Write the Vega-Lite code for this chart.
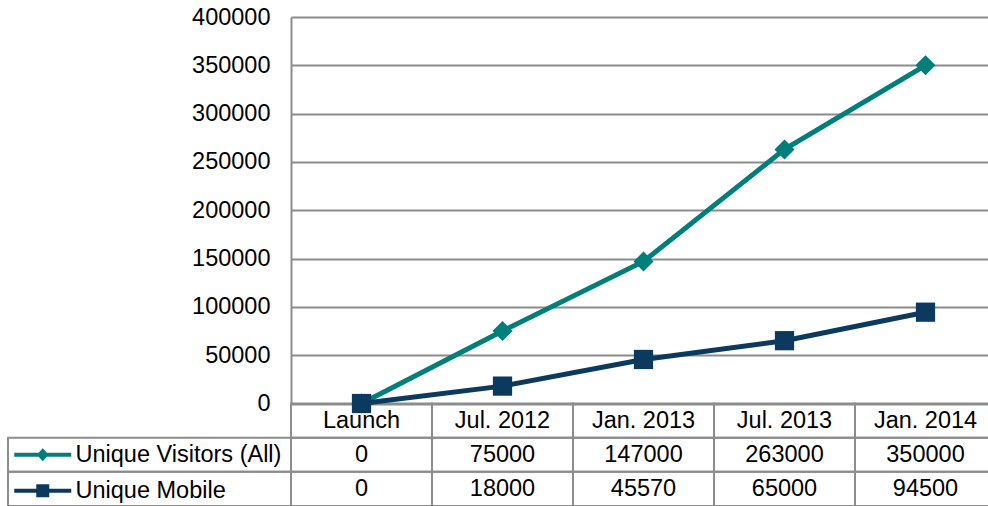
{
  "$schema": "https://vega.github.io/schema/vega-lite/v6.json",
  "autosize": {"type": "none"},
  "padding": {"left": 291, "top": 17, "right": 0, "bottom": 0},
  "width": 697,
  "height": 489,
  "background": "white",
  "config": {
    "view": {"stroke": null},
    "font": "Liberation Sans",
    "text": {"font": "Liberation Sans"}
  },
  "datasets": {
    "rows": [
      {"period": "Launch", "series": "Unique Visitors (All)", "value": 0},
      {"period": "Jul. 2012", "series": "Unique Visitors (All)", "value": 75000},
      {"period": "Jan. 2013", "series": "Unique Visitors (All)", "value": 147000},
      {"period": "Jul. 2013", "series": "Unique Visitors (All)", "value": 263000},
      {"period": "Jan. 2014", "series": "Unique Visitors (All)", "value": 350000},
      {"period": "Launch", "series": "Unique Mobile", "value": 0},
      {"period": "Jul. 2012", "series": "Unique Mobile", "value": 18000},
      {"period": "Jan. 2013", "series": "Unique Mobile", "value": 45570},
      {"period": "Jul. 2013", "series": "Unique Mobile", "value": 65000},
      {"period": "Jan. 2014", "series": "Unique Mobile", "value": 94500}
    ]
  },
  "data": {"name": "rows"},
  "resolve": {"scale": {"x": "independent", "y": "independent"}, "axis": {"x": "independent", "y": "independent"}},
  "layer": [
    {
      "mark": {"type": "rect", "fill": "transparent", "stroke": "#8c8c8c", "strokeWidth": 2},
      "encoding": {
        "x": {"field": "period", "type": "nominal", "sort": null, "axis": null,
              "scale": {"type": "band", "domain": ["Launch", "Jul. 2012", "Jan. 2013", "Jul. 2013", "Jan. 2014"], "range": [0, 705], "paddingInner": 0, "paddingOuter": 0}},
        "y": {"field": "series", "type": "nominal", "axis": null,
              "scale": {"type": "band", "domain": ["header", "Unique Visitors (All)", "Unique Mobile"], "range": [386.5, 489], "paddingInner": 0, "paddingOuter": 0}}
      }
    },
    {
      "transform": [{"filter": "datum.series === 'Unique Visitors (All)'"}],
      "mark": {"type": "rect", "fill": "transparent", "stroke": "#8c8c8c", "strokeWidth": 2},
      "encoding": {
        "x": {"field": "period", "type": "nominal", "sort": null, "axis": null,
              "scale": {"type": "band", "domain": ["Launch", "Jul. 2012", "Jan. 2013", "Jul. 2013", "Jan. 2014"], "range": [0, 705], "paddingInner": 0, "paddingOuter": 0}},
        "y": {"datum": "header", "type": "nominal", "axis": null,
              "scale": {"type": "band", "domain": ["header", "Unique Visitors (All)", "Unique Mobile"], "range": [386.5, 489], "paddingInner": 0, "paddingOuter": 0}}
      }
    },
    {
      "transform": [{"filter": "datum.period === 'Launch'"}],
      "mark": {"type": "rect", "fill": "transparent", "stroke": "#8c8c8c", "strokeWidth": 2},
      "encoding": {
        "x": {"datum": "Series", "type": "nominal", "axis": null,
              "scale": {"type": "band", "domain": ["Series"], "range": [-283, 0], "paddingInner": 0, "paddingOuter": 0}},
        "y": {"field": "series", "type": "nominal", "axis": null,
              "scale": {"type": "band", "domain": ["header", "Unique Visitors (All)", "Unique Mobile"], "range": [386.5, 489], "paddingInner": 0, "paddingOuter": 0}}
      }
    },
    {
      "mark": {"type": "text", "fontSize": 23.5, "color": "black", "align": "center", "baseline": "middle"},
      "encoding": {
        "x": {"field": "period", "type": "nominal", "sort": null, "axis": null,
              "scale": {"type": "band", "domain": ["Launch", "Jul. 2012", "Jan. 2013", "Jul. 2013", "Jan. 2014"], "range": [0, 705], "paddingInner": 0, "paddingOuter": 0}},
        "y": {"field": "series", "type": "nominal", "axis": null,
              "scale": {"type": "band", "domain": ["header", "Unique Visitors (All)", "Unique Mobile"], "range": [386.5, 489], "paddingInner": 0, "paddingOuter": 0}},
        "text": {"field": "value", "type": "quantitative", "format": "d"}
      }
    },
    {
      "transform": [{"filter": "datum.series === 'Unique Visitors (All)'"}],
      "mark": {"type": "text", "fontSize": 23.5, "color": "black", "align": "center", "baseline": "middle"},
      "encoding": {
        "x": {"field": "period", "type": "nominal", "sort": null, "axis": null,
              "scale": {"type": "band", "domain": ["Launch", "Jul. 2012", "Jan. 2013", "Jul. 2013", "Jan. 2014"], "range": [0, 705], "paddingInner": 0, "paddingOuter": 0}},
        "y": {"datum": "header", "type": "nominal", "axis": null,
              "scale": {"type": "band", "domain": ["header", "Unique Visitors (All)", "Unique Mobile"], "range": [386.5, 489], "paddingInner": 0, "paddingOuter": 0}},
        "text": {"field": "period", "type": "nominal"}
      }
    },
    {
      "mark": {"type": "line", "strokeWidth": 5},
      "encoding": {
        "x": {"field": "period", "type": "nominal", "sort": null, "axis": null,
              "scale": {"type": "band", "domain": ["Launch", "Jul. 2012", "Jan. 2013", "Jul. 2013", "Jan. 2014"], "range": [0, 705], "paddingInner": 0, "paddingOuter": 0}},
        "y": {"field": "value", "type": "quantitative",
              "scale": {"domain": [0, 400000], "range": [386.5, 0], "nice": false, "zero": true},
              "axis": {"title": null, "values": [0, 50000, 100000, 150000, 200000, 250000, 300000, 350000, 400000], "format": "d",
                       "labelFontSize": 23.5, "labelColor": "black", "labelFont": "Liberation Sans", "labelPadding": 21, "ticks": false,
                       "domainColor": "#8c8c8c", "domainWidth": 2, "gridColor": "#8c8c8c", "gridWidth": 2, "grid": true}},
        "color": {"field": "series", "type": "nominal",
                  "scale": {"domain": ["Unique Visitors (All)", "Unique Mobile"], "range": ["#007f7a", "#0c3a5e"]},
                  "legend": {
                    "orient": "none", "legendX": -260, "legendY": 426, "title": null,
                    "labelFontSize": 23.5, "labelFont": "Liberation Sans", "labelColor": "black", "labelLimit": 400,
                    "symbolSize": 529, "labelOffset": 21, "rowPadding": 11, "padding": 0,
                    "symbolStrokeWidth": 0,
                    "encode": {
                      "symbols": {"update": {
                        "shape": {"signal": "datum.value === 'Unique Mobile' ? 'M-2.478,-0.174H2.478V0.174H-2.478Z M-0.565,-0.565H0.565V0.565H-0.565Z' : 'M-2.478,-0.174H2.478V0.174H-2.478Z M0,-0.565L0.52,0L0,0.565L-0.52,0Z'"},
                        "size": {"value": 529},
                        "fill": {"signal": "scale('color', datum.value)"},
                        "strokeWidth": {"value": 0},
                        "opacity": {"value": 1}
                      }}
                    }
                  }}
      }
    },
    {
      "transform": [{"filter": "datum.series === 'Unique Visitors (All)'"}],
      "mark": {"type": "point", "filled": true, "opacity": 1, "shape": "diamond", "size": 400},
      "encoding": {
        "x": {"field": "period", "type": "nominal", "sort": null, "axis": null,
              "scale": {"type": "band", "domain": ["Launch", "Jul. 2012", "Jan. 2013", "Jul. 2013", "Jan. 2014"], "range": [0, 705], "paddingInner": 0, "paddingOuter": 0}},
        "y": {"field": "value", "type": "quantitative", "axis": null,
              "scale": {"domain": [0, 400000], "range": [386.5, 0], "nice": false, "zero": true}},
        "color": {"field": "series", "type": "nominal", "legend": null}
      }
    },
    {
      "transform": [{"filter": "datum.series === 'Unique Mobile'"}],
      "mark": {"type": "point", "filled": true, "opacity": 1, "shape": "square", "size": 370},
      "encoding": {
        "x": {"field": "period", "type": "nominal", "sort": null, "axis": null,
              "scale": {"type": "band", "domain": ["Launch", "Jul. 2012", "Jan. 2013", "Jul. 2013", "Jan. 2014"], "range": [0, 705], "paddingInner": 0, "paddingOuter": 0}},
        "y": {"field": "value", "type": "quantitative", "axis": null,
              "scale": {"domain": [0, 400000], "range": [386.5, 0], "nice": false, "zero": true}},
        "color": {"field": "series", "type": "nominal", "legend": null}
      }
    }
  ]
}
